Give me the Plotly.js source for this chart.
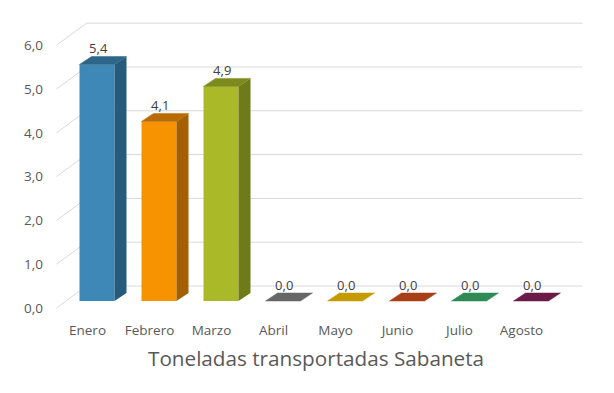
<!DOCTYPE html>
<html><head><meta charset="utf-8">
<script src="https://cdn.plot.ly/plotly-3.0.1.min.js"></script>
<style>html,body{margin:0;padding:0;background:#fff}#chart{width:614px;height:393px}</style>
</head><body><div id="chart"></div>
<script>
const months = ['Enero','Febrero','Marzo','Abril','Mayo','Junio','Julio','Agosto'];
const values = [5.4, 4.1, 4.9, 0.0, 0.0, 0.0, 0.0, 0.0];
const frontColors = ['#3d88b6','#f79200','#a9b927','#7f7f7f','#d9aa00','#b8461a','#36975f','#7a2052'];
const sideColors  = ['#275b7b','#a45f00','#6f7b19','#555555','#927200','#7b2f11','#24653f','#511537'];
const topColors   = ['#2e6689','#b86b00','#7d8a1d','#666666','#c49b00','#a83f17','#2f8a55','#6a1b46'];
const yTicks = [0,1,2,3,4,5,6];
const title = 'Toneladas transportadas Sabaneta';

// geometry (pixel-derived scale)
const pxX = 62, pxY = 43.8;
const plotL = 50, plotR = 594, plotT = 10, plotB = 320;
const x0px = 87.5, y0px = 308;
const sx1 = 9.5/pxX, sy1 = 7/pxY;     // bar front plane
const sx2 = 21.5/pxX, sy2 = 15/pxY;   // bar back plane
const sxw = 30/pxX, syw = 22/pxY;     // back wall
const hw = 17.5/pxX;                  // half bar width

const fmt = v => v.toFixed(1).replace('.', ',');
const traces = [];
values.forEach((v, i) => {
  const l = i - hw, r = i + hw;
  traces.push({type:'scatter', mode:'lines', fill:'toself', fillcolor: frontColors[i], line:{width:0}, hoverinfo:'skip',
    x:[l+sx1, r+sx1, r+sx1, l+sx1, l+sx1], y:[sy1, sy1, v+sy1, v+sy1, sy1]});
  traces.push({type:'scatter', mode:'lines', fill:'toself', fillcolor: sideColors[i], line:{width:0}, hoverinfo:'skip',
    x:[r+sx1, r+sx2, r+sx2, r+sx1, r+sx1], y:[sy1, sy2, v+sy2, v+sy1, sy1]});
  traces.push({type:'scatter', mode:'lines', fill:'toself', fillcolor: topColors[i], line:{width:0.5, color: topColors[i]}, hoverinfo:'skip',
    x:[l+sx1, r+sx1, r+sx2, l+sx2, l+sx1], y:[v+sy1, v+sy1, v+sy2, v+sy2, v+sy1]});
});
traces.push({type:'scatter', mode:'text', hoverinfo:'skip',
  x: values.map((v,i)=> i + sx1 + 0.02), y: values.map(v => v + sy2),
  text: values.map(fmt), textposition:'top center',
  textfont:{family:'Open Sans', size:13, color:'#404040'}});

const shapes = [];
const xL = -0.5, xR = 7.5;
yTicks.forEach(t => {
  shapes.push({type:'line', xref:'x', yref:'y', layer:'below', x0:xL, y0:t, x1:xL+sxw, y1:t+syw, line:{color:'#d9d9d9', width:1}});
  shapes.push({type:'line', xref:'x', yref:'y', layer:'below', x0:xL+sxw, y0:t+syw, x1:xR+sxw, y1:t+syw, line:{color:'#d9d9d9', width:1}});
});

const layout = {
  width:614, height:393, showlegend:false,
  paper_bgcolor:'#fff', plot_bgcolor:'#fff',
  separators:',.',
  margin:{l:plotL, r:614-plotR, t:plotT, b:393-plotB, pad:0},
  font:{family:'Open Sans', color:'#595959'},
  xaxis:{range:[(plotL-x0px)/pxX, (plotR-x0px)/pxX], tickvals: months.map((m,i)=>i), ticktext: months,
    showgrid:false, zeroline:false, showline:false, ticks:'', tickfont:{size:13.5, color:'#595959'},
    ticklabelstandoff:0, automargin:false, fixedrange:true},
  yaxis:{range:[-(plotB-y0px)/pxY, (y0px-plotT)/pxY], tickvals:yTicks, tickformat:'.1f',
    showgrid:false, zeroline:false, showline:false, ticks:'', tickfont:{size:13.5, color:'#595959'},
    ticklabelstandoff:6, automargin:false, fixedrange:true},
  annotations:[{text:title, xref:'paper', yref:'paper', x:(316-plotL)/(plotR-plotL), y:(plotB-358)/(plotB-plotT),
    xanchor:'center', yanchor:'middle', showarrow:false, font:{family:'Open Sans', size:20.7, color:'#595959'}}],
  shapes: shapes
};
Plotly.newPlot('chart', traces, layout, {displayModeBar:false, staticPlot:true});
</script></body></html>
